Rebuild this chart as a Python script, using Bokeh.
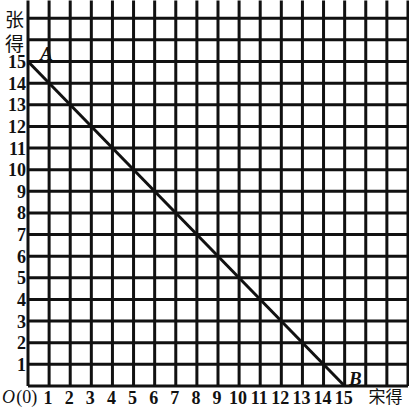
from bokeh.plotting import figure
from bokeh.models import Range1d, ColumnDataSource
from bokeh.core.properties import value
from bokeh.embed import file_html
from bokeh.resources import INLINE

# data
x_ticks = list(range(1, 16))
y_ticks = list(range(1, 16))
x_grid = list(range(0, 19))
y_grid = list(range(0, 18))
line_x = [0, 15]
line_y = [15, 0]

X0, X1 = -1.303, 18.072
Y0, Y1 = -1.086, 17.82

p = figure(width=409, height=409, output_backend="svg", toolbar_location=None,
           x_range=Range1d(X0, X1), y_range=Range1d(Y0, Y1),
           min_border=0)
p.outline_line_color = None
p.axis.visible = False
p.grid.visible = False
p.background_fill_color = "white"
p.border_fill_color = "white"

ink = "#111111"
p.segment(x0=x_grid, y0=[0] * len(x_grid), x1=x_grid, y1=[Y1 + 1] * len(x_grid),
          line_color=ink, line_width=3)
p.segment(x0=[0] * len(y_grid), y0=y_grid, x1=[x_grid[-1]] * len(y_grid), y1=y_grid,
          line_color=ink, line_width=3)
p.line(line_x, line_y, line_color=ink, line_width=3)

sx = ColumnDataSource(dict(x=x_ticks, y=[0] * len(x_ticks), t=[str(v) for v in x_ticks]))
p.text(x="x", y="y", text="t", source=sx, text_font=value("Liberation Serif"),
       text_font_style="bold", text_font_size="18px", text_color=ink,
       text_align="center", text_baseline="middle", y_offset=11, x_offset=-1)
sy = ColumnDataSource(dict(x=[0] * len(y_ticks), y=y_ticks, t=[str(v) for v in y_ticks]))
p.text(x="x", y="y", text="t", source=sy, text_font=value("Liberation Serif"),
       text_font_style="bold", text_font_size="18px", text_color=ink,
       text_align="right", text_baseline="middle", x_offset=-2)

def lab(x, y, text, font="Liberation Serif", style="normal", size="18px", yoff=0):
    p.text(x=[x], y=[y], text=[text], text_font=value(font), text_font_style=style,
           text_font_size=size, text_color=ink, text_align="center",
           text_baseline="middle", y_offset=yoff)

lab(0.876, 15.37, "A", style="bold italic", size="19px")
lab(15.51, 0.37, "B", style="bold italic", size="19px")
lab(-0.924, 0, "O", style="italic", size="18px", yoff=11)
lab(-0.06, 0, "(0)", size="18px", yoff=11)
lab(16.93, 0, "宋得", font="Noto Sans CJK SC", size="17px", yoff=9)
lab(-0.64, 16.99, "张", font="Noto Sans CJK SC", size="19px")
lab(-0.64, 15.88, "得", font="Noto Sans CJK SC", size="19px")

open("out.html", "w").write(file_html(p, INLINE))
